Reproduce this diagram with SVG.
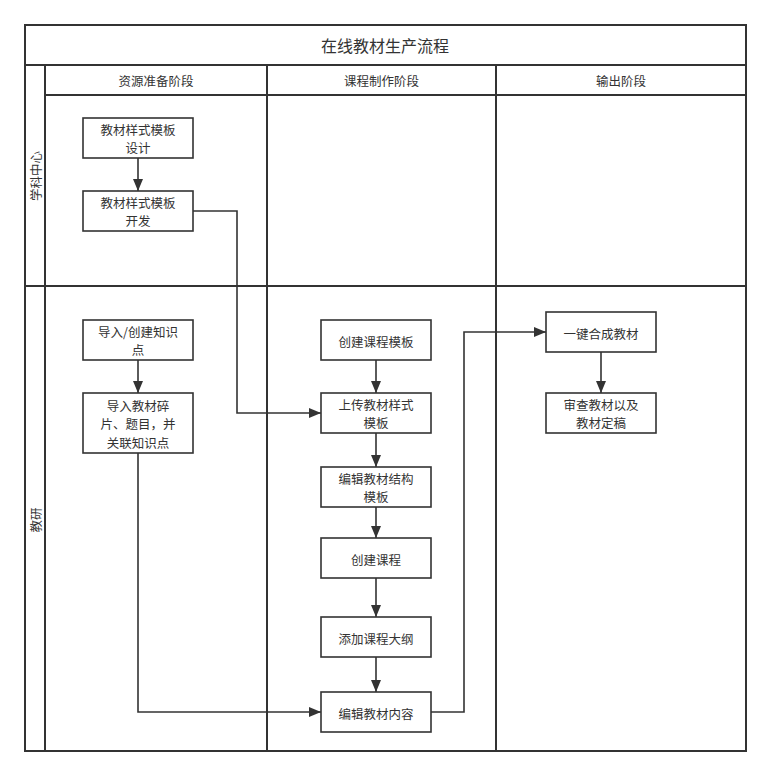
<svg xmlns="http://www.w3.org/2000/svg" width="771" height="777" viewBox="0 0 771 777">
<style>
.lane{fill:none;stroke:#333;stroke-width:2}
.node rect{fill:#fff;stroke:#333;stroke-width:1.6}
text{font-family:"Noto Sans CJK SC","Liberation Sans",sans-serif;font-size:12.5px;fill:#333;text-anchor:middle;dominant-baseline:central}
.title{font-size:16px}
.edge{fill:none;stroke:#333;stroke-width:1.6}
</style>
<defs>
<marker id="arr" viewBox="0 0 12 10" refX="12" refY="5" markerWidth="12" markerHeight="10" markerUnits="userSpaceOnUse" orient="auto">
<path d="M0,0 L12,5 L0,10 z" fill="#333"/>
</marker>
</defs>
<rect width="771" height="777" fill="#fff"/>
<g id="pool">
<rect class="lane" x="25" y="25" width="721" height="726"/>
<line class="lane" x1="25" y1="65" x2="746" y2="65"/>
<line class="lane" x1="45" y1="95" x2="746" y2="95"/>
<line class="lane" x1="45" y1="65" x2="45" y2="751"/>
<line class="lane" x1="267" y1="65" x2="267" y2="751"/>
<line class="lane" x1="496" y1="65" x2="496" y2="751"/>
<line class="lane" x1="25" y1="286" x2="746" y2="286"/>
<text class="title" x="385" y="45">在线教材生产流程</text>
<text x="156" y="80">资源准备阶段</text>
<text x="381.5" y="80">课程制作阶段</text>
<text x="621" y="80">输出阶段</text>
<text transform="translate(35,176) rotate(-90)">学科中心</text>
<text transform="translate(35,520) rotate(-90)">教研</text>
</g>
<g id="connectors">
<path class="edge" d="M138,158 V191" marker-end="url(#arr)"/>
<path class="edge" d="M193,211 H237 V413 H321" marker-end="url(#arr)"/>
<path class="edge" d="M138,360 V393" marker-end="url(#arr)"/>
<path class="edge" d="M138,453 V712 H321" marker-end="url(#arr)"/>
<path class="edge" d="M376,360 V393" marker-end="url(#arr)"/>
<path class="edge" d="M376,433 V467" marker-end="url(#arr)"/>
<path class="edge" d="M376,507 V538" marker-end="url(#arr)"/>
<path class="edge" d="M376,578 V617" marker-end="url(#arr)"/>
<path class="edge" d="M376,657 V692" marker-end="url(#arr)"/>
<path class="edge" d="M431,712 H464 V332 H546" marker-end="url(#arr)"/>
<path class="edge" d="M601,352 V393" marker-end="url(#arr)"/>
</g>
<g id="n1" class="node"><rect x="83" y="118" width="110" height="40"/><text x="138" y="129">教材样式模板</text><text x="138" y="147.5">设计</text></g>
<g id="n2" class="node"><rect x="83" y="191" width="110" height="40"/><text x="138" y="202">教材样式模板</text><text x="138" y="220.5">开发</text></g>
<g id="n3" class="node"><rect x="83" y="320" width="110" height="40"/><text x="138" y="331">导入/创建知识</text><text x="138" y="349.5">点</text></g>
<g id="n4" class="node"><rect x="83" y="393" width="110" height="60"/><text x="138" y="405">导入教材碎</text><text x="138" y="423.5">片、题目，并</text><text x="138" y="442">关联知识点</text></g>
<g id="n5" class="node"><rect x="321" y="320" width="110" height="40"/><text x="376" y="341">创建课程模板</text></g>
<g id="n6" class="node"><rect x="321" y="393" width="110" height="40"/><text x="376" y="404">上传教材样式</text><text x="376" y="422.5">模板</text></g>
<g id="n7" class="node"><rect x="321" y="467" width="110" height="40"/><text x="376" y="478">编辑教材结构</text><text x="376" y="496.5">模板</text></g>
<g id="n8" class="node"><rect x="321" y="538" width="110" height="40"/><text x="376" y="559">创建课程</text></g>
<g id="n9" class="node"><rect x="321" y="617" width="110" height="40"/><text x="376" y="638">添加课程大纲</text></g>
<g id="n10" class="node"><rect x="321" y="692" width="110" height="40"/><text x="376" y="713">编辑教材内容</text></g>
<g id="n11" class="node"><rect x="546" y="312" width="110" height="40"/><text x="601" y="333">一键合成教材</text></g>
<g id="n12" class="node"><rect x="546" y="393" width="110" height="40"/><text x="601" y="404">审查教材以及</text><text x="601" y="422.5">教材定稿</text></g>
</svg>
